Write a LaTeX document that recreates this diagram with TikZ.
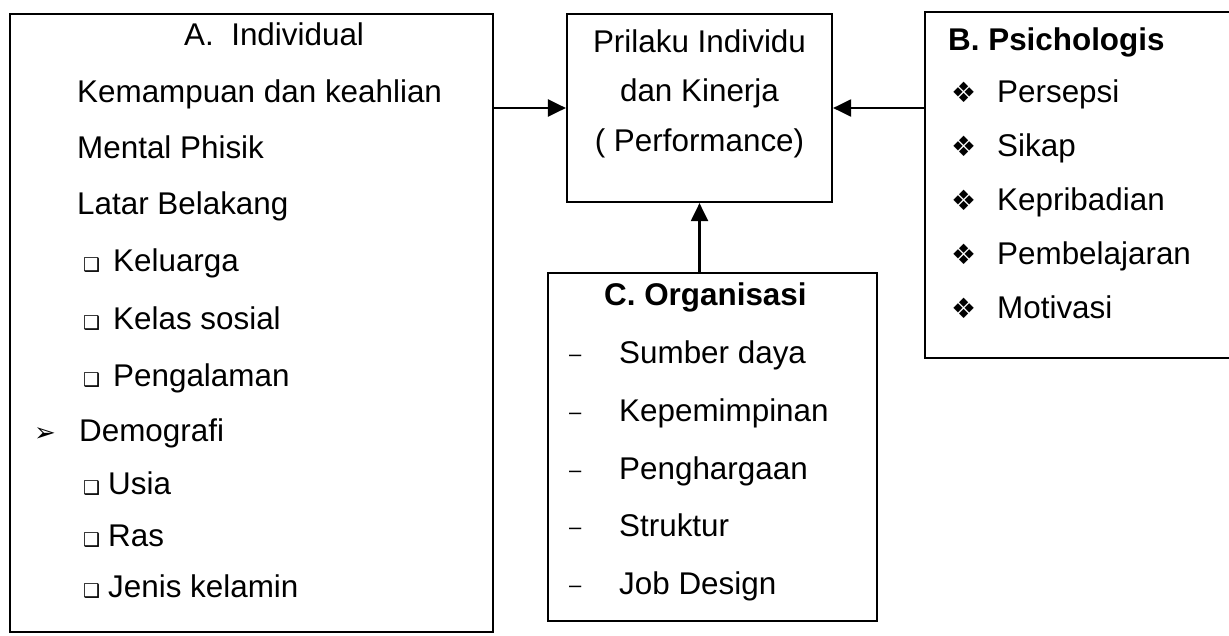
\documentclass[tikz,border=0pt]{standalone}
\usepackage{fontspec}
\setmainfont{Liberation Sans}
\newfontfamily\symfont{DejaVu Sans}
\usetikzlibrary{arrows.meta}
\begin{document}
\begin{tikzpicture}[x=1pt,y=-1pt,
  box/.style={draw, line width=2.2pt, inner sep=0pt},
  txt/.style={anchor=base west, inner sep=0pt, font=\fontsize{31.4}{36}\selectfont},
  ttl/.style={anchor=base west, inner sep=0pt, font=\fontsize{31.4}{36}\selectfont\bfseries},
  ctr/.style={anchor=base, inner sep=0pt, font=\fontsize{31.4}{36}\selectfont},
  sq/.style={anchor=base west, inner sep=0pt, font=\symfont\fontsize{19}{22}\selectfont},
  dia/.style={anchor=base west, inner sep=0pt, font=\symfont\fontsize{28}{32}\selectfont},
  arh/.style={anchor=base west, inner sep=0pt, font=\symfont\fontsize{26}{30}\selectfont},
  dsh/.style={anchor=base west, inner sep=0pt, font=\fontsize{22}{26}\selectfont},
  arr/.style={line width=2.2pt, -{Triangle[length=18pt,width=17pt]}},
]
\clip (0,0) rectangle (1229,635);
\fill[white] (0,0) rectangle (1229,635);

% boxes
\node[box, minimum width=483pt, minimum height=618pt] (A) at (251.5,323) {};
\node[box, minimum width=265pt, minimum height=188pt] (P) at (699.5,108) {};
\node[box, minimum width=320pt, minimum height=346pt] (B) at (1085,185) {};
\node[box, minimum width=329pt, minimum height=348pt] (C) at (712.5,447) {};

% box A text
\node[txt] (a0) at (184,45) {A.\ \ Individual};
\node[txt] (a1) at (77,102) {Kemampuan dan keahlian};
\node[txt] (a2) at (77,158) {Mental Phisik};
\node[txt] (a3) at (77,214) {Latar Belakang};
\node[sq] (b4) at (83,271) {❑};
\node[txt] (a4) at (113,271) {Keluarga};
\node[sq] (b5) at (83,329) {❑};
\node[txt] (a5) at (113,329) {Kelas sosial};
\node[sq] (b6) at (83,386) {❑};
\node[txt] (a6) at (113,386) {Pengalaman};
\node[arh] (b7) at (34,441) {➢};
\node[txt] (a7) at (79,441) {Demografi};
\node[sq] (b8) at (83,494) {❑};
\node[txt] (a8) at (108,494) {Usia};
\node[sq] (b9) at (83,546) {❑};
\node[txt] (a9) at (108,546) {Ras};
\node[sq] (b10) at (83,597) {❑};
\node[txt] (a10) at (108,597) {Jenis kelamin};

% centre box text
\node[ctr] (p1) at (699.5,52) {Prilaku Individu};
\node[ctr] (p2) at (699.5,101) {dan Kinerja};
\node[ctr] (p3) at (699.5,151) {( Performance)};

% box B text
\node[ttl] (q0) at (948,50) {B. Psichologis};
\node[dia] (d1) at (951,102) {❖};
\node[txt] (q1) at (997,102) {Persepsi};
\node[dia] (d2) at (951,156) {❖};
\node[txt] (q2) at (997,156) {Sikap};
\node[dia] (d3) at (951,210) {❖};
\node[txt] (q3) at (997,210) {Kepribadian};
\node[dia] (d4) at (951,264) {❖};
\node[txt] (q4) at (997,264) {Pembelajaran};
\node[dia] (d5) at (951,318) {❖};
\node[txt] (q5) at (997,318) {Motivasi};

% box C text
\node[ttl] (c0) at (604,305) {C. Organisasi};
\node[dsh] (e1) at (569,361) {–};
\node[txt] (c1) at (619,363) {Sumber daya};
\node[dsh] (e2) at (569,419) {–};
\node[txt] (c2) at (619,421) {Kepemimpinan};
\node[dsh] (e3) at (569,477) {–};
\node[txt] (c3) at (619,479) {Penghargaan};
\node[dsh] (e4) at (569,534) {–};
\node[txt] (c4) at (619,536) {Struktur};
\node[dsh] (e5) at (569,592) {–};
\node[txt] (c5) at (619,594) {Job Design};

% connectors
\draw[arr] (A.east |- P.west) -- (P.west);
\draw[arr] (B.west |- P.east) -- (P.east);
\draw[arr] (C.north -| P.south) -- (P.south);
\end{tikzpicture}
\end{document}
